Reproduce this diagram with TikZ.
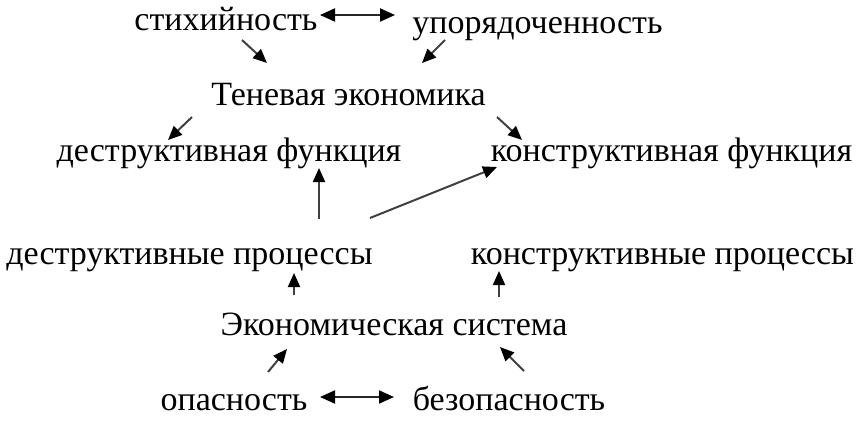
\documentclass[tikz,border=0pt]{standalone}
\usepackage{fontspec}
\setmainfont{Liberation Serif}
\usepackage{tikz}
\usetikzlibrary{arrows.meta}

\begin{document}
\begin{tikzpicture}[
  x=0.5pt, y=-0.5pt,
  term/.style={inner sep=0pt, anchor=base, font=\fontsize{17}{20}\selectfont},
  link/.style={draw=black!75, line width=1pt, -{Triangle[length=7pt, width=6pt, black]}},
  twoway/.style={draw=black!85, line width=1pt, {Triangle[length=7.5pt, width=6.5pt, black]}-{Triangle[length=7.5pt, width=6.5pt, black]}},
]
  \useasboundingbox (0,0) rectangle (862,424);

  % Top
  \node[term] (stix) at (226, 30) {стихийность};
  \node[term] (upor) at (537.5, 33) {упорядоченность};
  \node[term] (ten) at (348.5, 105) {Теневая экономика};

  % Functions
  \node[term] (dfunc) at (229, 161) {деструктивная функция};
  \node[term] (kfunc) at (671.5, 161) {конструктивная функция};

  % Processes
  \node[term] (dproc) at (189.5, 264) {деструктивные процессы};
  \node[term] (kproc) at (662.5, 264) {конструктивные процессы};

  % Bottom
  \node[term] (econ) at (394, 335) {Экономическая система};
  \node[term] (opas) at (234, 410) {опасность};
  \node[term] (bezop) at (509, 410) {безопасность};

  % Arrows
  \draw[twoway] ([shift={(94,-15)}]stix.base) -- ([shift={(-142.5,-18)}]upor.base);
  \draw[link] ([shift={(16,10)}]stix.base) -- ([shift={(-81.5,-42)}]ten.base);
  \draw[link] ([shift={(-92.5,7)}]upor.base) -- ([shift={(73.5,-42)}]ten.base);
  \draw[link] ([shift={(-156.5,12)}]ten.base) -- ([shift={(-61,-21)}]dfunc.base);
  \draw[link] ([shift={(148.5,12)}]ten.base) -- ([shift={(-149.5,-21)}]kfunc.base);
  \draw[link] ([shift={(129.5,-45)}]dproc.base) -- ([shift={(90,7)}]dfunc.base);
  \draw[link] ([shift={(180.5,-46)}]dproc.base) -- ([shift={(-174.5,6)}]kfunc.base);
  \draw[link] ([shift={(-100,-40)}]econ.base) -- ([shift={(104.5,9)}]dproc.base);
  \draw[link] ([shift={(105,-38)}]econ.base) -- ([shift={(-163.5,7)}]kproc.base);
  \draw[link] ([shift={(34,-38)}]opas.base) -- ([shift={(-107,14)}]econ.base);
  \draw[link] ([shift={(15,-39)}]bezop.base) -- ([shift={(106,12)}]econ.base);
  \draw[twoway] ([shift={(86,-13)}]opas.base) -- ([shift={(-115,-13)}]bezop.base);
\end{tikzpicture}
\end{document}
